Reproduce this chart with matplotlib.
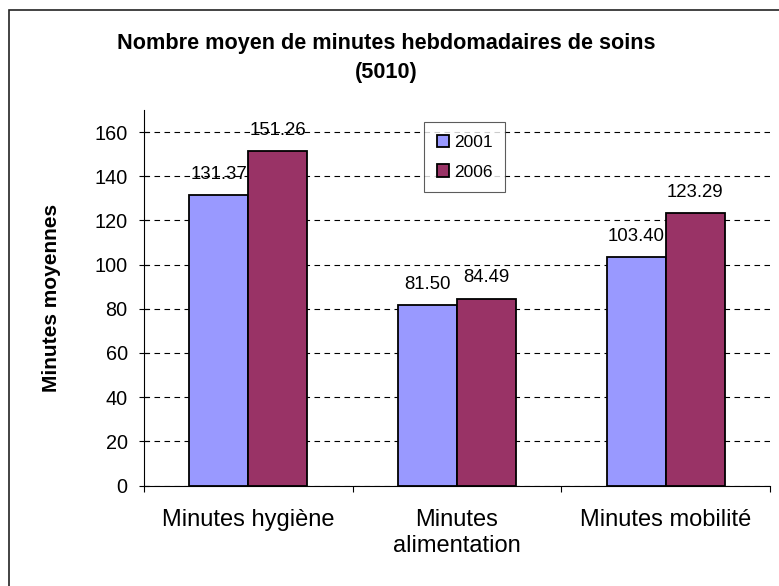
import numpy as np
import matplotlib
matplotlib.use("Agg")
import matplotlib.pyplot as plt
from matplotlib.patches import Rectangle

plt.rcParams["font.family"] = ["Liberation Sans", "DejaVu Sans"]

# Data
categories = ["Minutes hygiène", "Minutes\nalimentation", "Minutes mobilité"]
years = ["2001", "2006"]
values_2001 = [131.37, 81.50, 103.40]
values_2006 = [151.26, 84.49, 123.29]
yticks = [0, 20, 40, 60, 80, 100, 120, 140, 160]

fig = plt.figure(figsize=(7.79, 5.86), dpi=100)
ax = fig.add_axes([0.1849, 0.1715, 0.8036, 0.6408])

x = np.arange(len(categories))
w = 0.283
bars1 = ax.bar(x - w / 2, values_2001, w, color="#9999FF", edgecolor="black",
               linewidth=1.3, label=years[0], zorder=3)
bars2 = ax.bar(x + w / 2, values_2006, w, color="#993366", edgecolor="black",
               linewidth=1.3, label=years[1], zorder=3)

for bars, vals in [(bars1, values_2001), (bars2, values_2006)]:
    for b, v in zip(bars, vals):
        ax.annotate(f"{v:.2f}", (b.get_x() + b.get_width() / 2, v),
                    xytext=(0, 9), textcoords="offset points",
                    ha="center", va="bottom", fontsize=13.4, zorder=4)

ax.set_xlim(-0.5, 2.5)
ax.set_ylim(0, 170)
ax.set_yticks(yticks)
ax.tick_params(axis="y", direction="inout", length=7.5, width=0.8,
               labelsize=14.3, pad=8)

# category labels centred, tick marks between groups
ax.set_xticks(x)
ax.set_xticklabels(categories, fontsize=17)
ax.tick_params(axis="x", which="major", length=0, pad=17)
ax.set_xticks([-0.5, 0.5, 1.5, 2.5], minor=True)
ax.tick_params(axis="x", which="minor", direction="out", length=4.5, width=0.8)

ax.grid(axis="y", color="black", linestyle=(0, (5, 4)), linewidth=0.8, zorder=0)
for s in ["top", "right"]:
    ax.spines[s].set_visible(False)
for s in ["left", "bottom"]:
    ax.spines[s].set_linewidth(0.8)

ax.set_ylabel("Minutes moyennes", fontsize=15, fontweight="bold", labelpad=24)

leg = ax.legend(loc="upper left", bbox_to_anchor=(0.4473, 0.968), fontsize=12.5,
                frameon=True, fancybox=False, edgecolor="#333333",
                handlelength=0.7, handleheight=0.7, handletextpad=0.3,
                borderpad=0.72, labelspacing=0.85, borderaxespad=0)
leg.get_frame().set_linewidth(0.8)
leg.set_zorder(5)

fig.text(386 / 779, 1 - 58 / 586,
         "Nombre moyen de minutes hebdomadaires de soins\n(5010)",
         ha="center", va="center", fontsize=15.6, fontweight="bold",
         linespacing=1.5)

fig.patches.append(Rectangle((9 / 779, -0.1), 1.2, 1.1 - 10 / 586,
                             transform=fig.transFigure, fill=False,
                             edgecolor="#222222", linewidth=1.2))

fig.savefig("out.png", dpi=100)
